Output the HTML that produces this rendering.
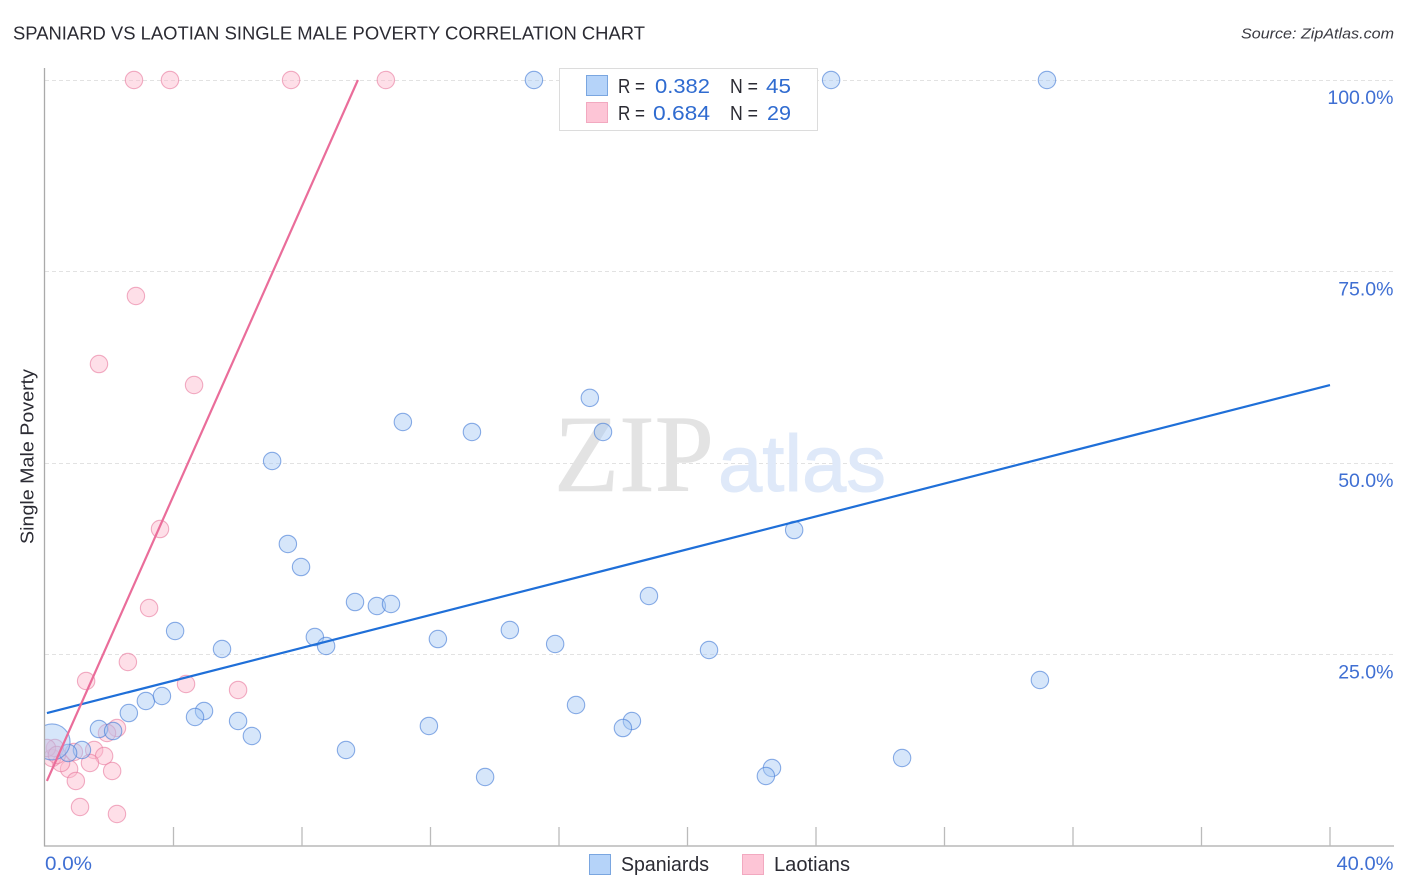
<!DOCTYPE html>
<html lang="en">
<head>
<meta charset="utf-8">
<title>Spaniard vs Laotian Single Male Poverty Correlation Chart</title>
<style>
html,body{margin:0;padding:0;background:#fff;width:1406px;height:892px;overflow:hidden}
svg{display:block;font-family:"Liberation Sans",sans-serif}
</style>
</head>
<body>
<svg id="chart" xmlns="http://www.w3.org/2000/svg" width="1406" height="892" viewBox="0 0 1406 892">
  <defs><clipPath id="plot-clip"><rect x="45" y="60" width="1350" height="786"/></clipPath></defs>
  <text x="13" y="39.5" font-size="18.5" fill="#2b2b33" textLength="632" lengthAdjust="spacingAndGlyphs">SPANIARD VS LAOTIAN SINGLE MALE POVERTY CORRELATION CHART</text>
  <text x="1394" y="38.5" font-size="15" font-style="italic" fill="#3a3a42" text-anchor="end" textLength="153" lengthAdjust="spacingAndGlyphs">Source: ZipAtlas.com</text>
  <g id="grid"></g>
  <g>
    <text x="554" y="491" font-family="'Liberation Serif',serif" font-size="110" fill="#e3e3e3" stroke="#e3e3e3" stroke-width="0.6" textLength="160" lengthAdjust="spacingAndGlyphs">ZIP</text>
    <text x="718" y="491" font-size="80" fill="#dfe9f9" stroke="#dfe9f9" stroke-width="1" textLength="168" lengthAdjust="spacingAndGlyphs">atlas</text>
  </g>
  <g id="points" clip-path="url(#plot-clip)"></g>
  <g id="trends" clip-path="url(#plot-clip)"></g>
  <g id="axes"></g>
  <text transform="translate(33.5,456.5) rotate(-90)" font-size="18.5" fill="#2b2b33" text-anchor="middle" textLength="175" lengthAdjust="spacingAndGlyphs">Single Male Poverty</text>
  <g>
    <rect x="559.5" y="68.5" width="258" height="62" fill="#fff" stroke="#dcdcdc" stroke-width="1"/>
    <rect x="586.5" y="75.5" width="21" height="20" fill="#b5d3f9" stroke="#7aa6e0"/>
    <text x="618" y="93" font-size="20" fill="#2b2b33" textLength="27" lengthAdjust="spacingAndGlyphs">R =</text>
    <text x="655" y="93" font-size="20.5" fill="#2f6bd0" textLength="55" lengthAdjust="spacingAndGlyphs">0.382</text>
    <text x="730" y="93" font-size="20" fill="#2b2b33" textLength="28" lengthAdjust="spacingAndGlyphs">N =</text>
    <text x="766" y="93" font-size="20.5" fill="#2f6bd0" textLength="25" lengthAdjust="spacingAndGlyphs">45</text>
    <rect x="586.5" y="102.5" width="21" height="20" fill="#fdc5d6" stroke="#f2a9c0"/>
    <text x="618" y="120" font-size="20" fill="#2b2b33" textLength="27" lengthAdjust="spacingAndGlyphs">R =</text>
    <text x="653" y="120" font-size="20.5" fill="#2f6bd0" textLength="57" lengthAdjust="spacingAndGlyphs">0.684</text>
    <text x="730" y="120" font-size="20" fill="#2b2b33" textLength="28" lengthAdjust="spacingAndGlyphs">N =</text>
    <text x="767" y="120" font-size="20.5" fill="#2f6bd0" textLength="24" lengthAdjust="spacingAndGlyphs">29</text>
  </g>
  <g>
    <rect x="589.5" y="854.5" width="21" height="20" fill="#b5d3f9" stroke="#7aa6e0"/>
    <text x="621" y="871" font-size="20" fill="#2b2b33" textLength="88" lengthAdjust="spacingAndGlyphs">Spaniards</text>
    <rect x="742.5" y="854.5" width="21" height="20" fill="#fdc5d6" stroke="#f2a9c0"/>
    <text x="774" y="871" font-size="20" fill="#2b2b33" textLength="76" lengthAdjust="spacingAndGlyphs">Laotians</text>
  </g>
</svg>
<script>
const spaniardsX = [15.22,24.47,31.19,16.96,11.14,13.29,17.37,7.07,23.32,7.56,7.97,18.80,9.65,10.33,10.77,4.05,14.47,8.40,8.75,12.23,15.88,5.51,20.67,30.97,3.14,3.64,2.61,16.53,4.95,4.67,6.01,18.27,17.99,11.95,1.68,2.12,6.44,9.37,1.15,0.72,26.68,22.63,22.44,13.70,0.22];
const spaniardsY = [100,100,100,58.5,55.35,54.05,54.05,50.26,41.25,39.43,36.42,32.64,31.85,31.33,31.59,28.07,28.2,27.28,26.11,27.02,26.37,25.72,25.59,21.67,18.93,19.58,17.36,18.41,17.62,16.84,16.32,16.32,15.40,15.67,15.27,15.01,14.36,12.53,12.53,12.14,11.49,10.18,9.14,9.01,13.58];
const laotiansX = [2.77,3.89,7.66,10.61,2.83,1.68,4.64,3.58,3.24,2.58,1.28,4.39,6.01,2.24,1.93,1.53,1.84,1.40,2.09,0.75,0.96,1.09,2.24,0.50,0.22,0.31,0.06,0.90,0.37];
const laotiansY = [100,100,100,100,71.8,62.92,60.18,41.38,31.07,24.02,21.54,21.15,20.37,15.40,14.75,12.53,11.75,10.84,9.79,10.05,8.49,5.09,4.18,10.84,11.49,12.79,12.79,12.27,11.88];
const spaniardsTrendX = [0.06,40];
const spaniardsTrendY = [17.36,60.18];
const laotiansTrendX = [0.06,9.74];
const laotiansTrendY = [8.49,100];
const xTickValues = [4,8,12,16,20,24,28,32,36,40];
const yGridValues = [100,75,50,25];
const yTickLabels = ['100.0%','75.0%','50.0%','25.0%'];
const xMinLabel = '0.0%';
const xMaxLabel = '40.0%';

const NS = 'http://www.w3.org/2000/svg';
const xScale = v => 45 + v * (1330 - 45) / 40;
const yScale = v => 846 - v * (846 - 80) / 100;
function make(parent, tag, attrs, text) {
  const el = document.createElementNS(NS, tag);
  for (const k in attrs) el.setAttribute(k, attrs[k]);
  if (text !== undefined) el.textContent = text;
  parent.appendChild(el);
  return el;
}
const grid = document.getElementById('grid');
const axes = document.getElementById('axes');
const points = document.getElementById('points');
const trends = document.getElementById('trends');
const labelColor = '#3f6fd3';

yGridValues.forEach((v, i) => {
  const y = Math.floor(yScale(v)) + 0.5;
  const line = make(grid, 'line', {x1: 45, x2: 1393, y1: y, y2: y, stroke: '#e2e2e2', 'stroke-width': 1, 'stroke-dasharray': '4 3'});
  
  
  const label = make(axes, 'text', {x: 1393.5, y: yScale(v) + 24, 'font-size': 19.5, fill: labelColor, 'text-anchor': 'end'}, yTickLabels[i]);
  
  
});

const yAxis = make(axes, 'line', {x1: 44.5, x2: 44.5, y1: 68, y2: 846.5, stroke: '#aaaaaa', 'stroke-width': 1.3});


const xAxis = make(axes, 'line', {x1: 44, x2: 1394, y1: 846, y2: 846, stroke: '#aaaaaa', 'stroke-width': 1.3});


xTickValues.forEach(v => {
  const x = xScale(v);
  const tick = make(axes, 'line', {x1: x, x2: x, y1: 827, y2: 846, stroke: '#bbbbbb', 'stroke-width': 1.3});
  
  
});
const xMin = make(axes, 'text', {x: 45, y: 870, 'font-size': 19.5, fill: labelColor, textLength: 47, lengthAdjust: 'spacingAndGlyphs'}, xMinLabel);


const xMax = make(axes, 'text', {x: 1393.5, y: 870, 'font-size': 19.5, fill: labelColor, 'text-anchor': 'end', textLength: 57, lengthAdjust: 'spacingAndGlyphs'}, xMaxLabel);



const pointRadius = 8.7;
const largePointRadius = 18;
laotiansX.forEach((v, i) => {
  const c = make(points, 'circle', {cx: xScale(v), cy: yScale(laotiansY[i]), r: pointRadius, fill: 'rgba(252,185,205,0.45)', stroke: 'rgba(232,125,160,0.62)', 'stroke-width': 1.1});
  
  
});
spaniardsX.forEach((v, i) => {
  const r = i === spaniardsX.length - 1 ? largePointRadius : pointRadius;
  const c = make(points, 'circle', {cx: xScale(v), cy: yScale(spaniardsY[i]), r: r, fill: 'rgba(165,200,245,0.45)', stroke: 'rgba(70,125,215,0.62)', 'stroke-width': 1.1});
  
  
});

const blueLine = make(trends, 'line', {x1: xScale(spaniardsTrendX[0]), y1: yScale(spaniardsTrendY[0]), x2: xScale(spaniardsTrendX[1]), y2: yScale(spaniardsTrendY[1]), stroke: '#1f6fd8', 'stroke-width': 2.2});


const pinkLine = make(trends, 'line', {x1: xScale(laotiansTrendX[0]), y1: yScale(laotiansTrendY[0]), x2: xScale(laotiansTrendX[1]), y2: yScale(laotiansTrendY[1]), stroke: '#ea6d9a', 'stroke-width': 2.2});


</script>
</body>
</html>
